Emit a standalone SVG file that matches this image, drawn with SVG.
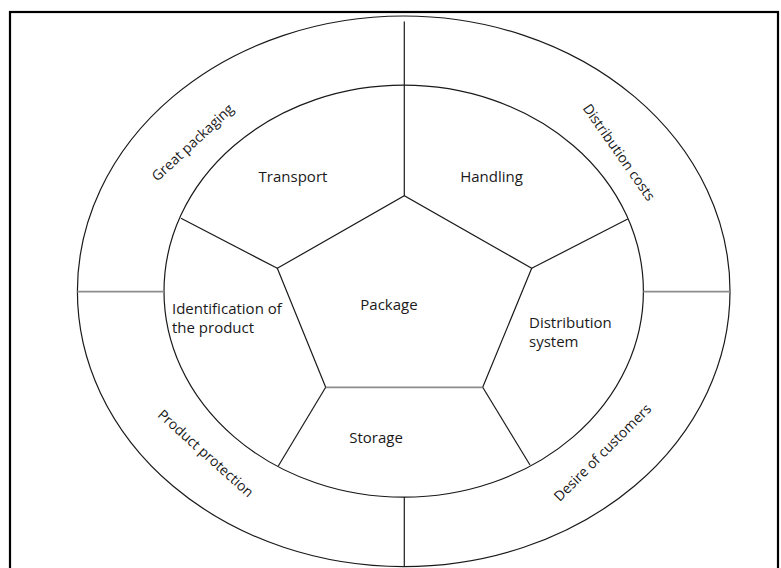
<svg xmlns="http://www.w3.org/2000/svg" width="781" height="568" viewBox="0 0 781 568">
<style>
.ln{fill:none;stroke:#1a1a1a;stroke-width:1.2}
.gl{fill:none;stroke:#8c8c8c;stroke-width:1.8}
.t{font-family:"Open Sans","Noto Sans","Liberation Sans",sans-serif;font-size:15px;fill:#1a1a1a}
.r{font-family:"Open Sans","Noto Sans","Liberation Sans",sans-serif;font-size:14px;fill:#1a1a1a;text-anchor:middle}
.c{text-anchor:middle}
</style>
<rect x="10" y="12" width="768" height="570" fill="#fff" stroke="#000" stroke-width="2.2"/>
<g id="outer-ring">
<ellipse class="ln" cx="403.7" cy="291.3" rx="326.3" ry="275.3"/>
</g>
<g id="inner-ring">
<ellipse class="ln" cx="403.7" cy="291.2" rx="239.7" ry="206"/>
</g>
<g id="package">
<polyline class="ln" points="325.7,387.3 277.3,268.3 404.3,195.7 531.7,268.3 482.7,387.3"/>
<line class="gl" x1="325.7" y1="387.3" x2="482.7" y2="387.3"/>
<text class="t c" x="389" y="310">Package</text>
</g>
<g id="connectors">
<line class="ln" x1="404.3" y1="21.5" x2="404.3" y2="195.7"/>
<line class="ln" x1="404.3" y1="497" x2="404.3" y2="567"/>
<line class="gl" x1="77.3" y1="291.7" x2="164" y2="291.7"/>
<line class="gl" x1="643.3" y1="291.7" x2="730" y2="291.7"/>
<line class="ln" x1="277.3" y1="268.3" x2="181" y2="218.3"/>
<line class="ln" x1="531.7" y1="268.3" x2="627.7" y2="219"/>
<line class="ln" x1="325.7" y1="387.3" x2="278.3" y2="466"/>
<line class="ln" x1="482.7" y1="387.3" x2="530" y2="465"/>
</g>
<g id="transport"><text class="t c" x="293" y="181.5">Transport</text></g>
<g id="handling"><text class="t c" x="491.5" y="181.5">Handling</text></g>
<g id="identification"><text class="t" x="172" y="313.5">Identification of</text><text class="t" x="172" y="333">the product</text></g>
<g id="distribution-system"><text class="t" x="529" y="328">Distribution</text><text class="t" x="529" y="347">system</text></g>
<g id="storage"><text class="t c" x="376" y="442.5">Storage</text></g>
<g id="great-packaging"><text class="r" transform="translate(196,146) rotate(-43)">Great packaging</text></g>
<g id="distribution-costs"><text class="r" transform="translate(615,155) rotate(55)">Distribution costs</text></g>
<g id="product-protection"><text class="r" transform="translate(202.5,457) rotate(42)">Product protection</text></g>
<g id="desire-of-customers"><text class="r" transform="translate(606,456) rotate(-45)">Desire of customers</text></g>
</svg>
